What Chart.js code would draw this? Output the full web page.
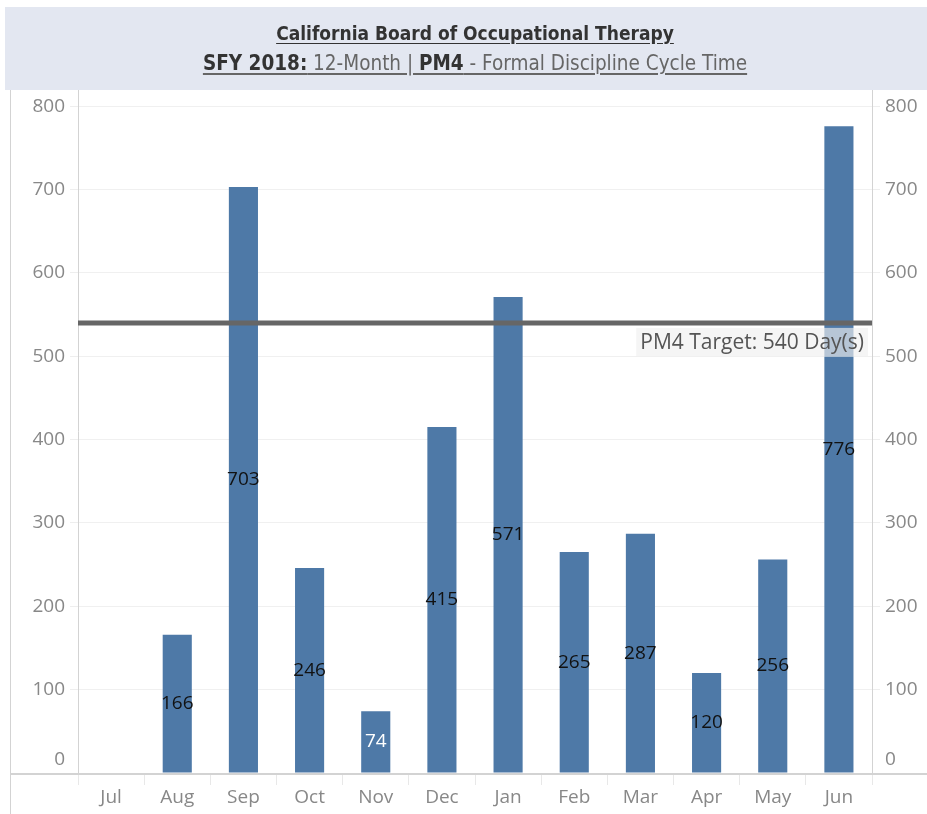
<!DOCTYPE html>
<html>
<head>
<meta charset="utf-8">
<script src="https://cdn.jsdelivr.net/npm/chart.js@4"></script>
<style>
  body { margin: 0; background: #fff; }
  #wrap { position: relative; width: 927px; height: 814px; }
  #head { position: absolute; left: 5px; top: 7px; width: 922px; height: 83px; background: #e3e7f1; }
  #titles { position: absolute; left: 78px; width: 794px; top: 18px; text-align: center;
    font-family: "Liberation Sans Narrow", "DejaVu Sans Condensed", sans-serif; color: #333; }
  #titles div { text-decoration: underline; text-underline-offset: 3px; }
  .t1 { font-size: 19px; font-weight: bold; line-height: 30px; }
  .t2 { font-size: 20.5px; line-height: 30px; color: #666; }
  .t2 b { color: #333; }
  canvas { position: absolute; left: 0; top: 0; }
</style>
</head>
<body>
<div id="wrap">
  <div id="head"></div>
  <canvas id="c" width="927" height="814"></canvas>
  <div id="titles">
    <div class="t1">California Board of Occupational Therapy</div>
    <div class="t2"><b>SFY 2018:</b> 12-Month | <b>PM4</b> - Formal Discipline Cycle Time</div>
  </div>
</div>
<script>
var months = ['Jul', 'Aug', 'Sep', 'Oct', 'Nov', 'Dec', 'Jan', 'Feb', 'Mar', 'Apr', 'May', 'Jun'];
var cycleDays = [null, 166, 703, 246, 74, 415, 571, 265, 287, 120, 256, 776];
var target = 540;
var targetLabel = 'PM4 Target: 540 Day(s)';
var yTicks = [0, 100, 200, 300, 400, 500, 600, 700, 800];

var tickFont = { family: "'Open Sans', sans-serif", size: 19 };

function keepTicks(scale) {
    scale.ticks = yTicks.map(function (v) { return { value: v }; });
}

// the 0 label is drawn by the plugin, nudged above the baseline
function noZero(v) {
    return v === 0 ? '' : v;
}

// frame lines, target line and bar labels
var extras = {
    id: 'extras',
    beforeDatasetsDraw: function (chart) {
        var ctx = chart.ctx, a = chart.chartArea;
        ctx.save();
        ctx.strokeStyle = '#d3d3d3';
        ctx.lineWidth = 1;
        ctx.beginPath();
        ctx.moveTo(10.5, 90); ctx.lineTo(10.5, 814);
        ctx.moveTo(a.left + 0.5, 90); ctx.lineTo(a.left + 0.5, a.bottom);
        ctx.moveTo(a.right + 0.5, 90); ctx.lineTo(a.right + 0.5, a.bottom);
        ctx.stroke();
        ctx.restore();
    },
    afterDatasetsDraw: function (chart) {
        var ctx = chart.ctx, a = chart.chartArea;
        var y = chart.scales.y;
        ctx.save();
        ctx.strokeStyle = '#d3d3d3';
        ctx.lineWidth = 2;
        ctx.beginPath();
        ctx.moveTo(10, a.bottom + 1); ctx.lineTo(927, a.bottom + 1);
        ctx.stroke();

        // zero labels on both value axes
        var zy = y.getPixelForValue(0) - 13;
        ctx.font = "19px 'Open Sans', sans-serif";
        ctx.fillStyle = '#888';
        ctx.textBaseline = 'middle';
        ctx.textAlign = 'right';
        ctx.fillText('0', a.left - 13, zy);
        ctx.textAlign = 'left';
        ctx.fillText('0', a.right + 13, zy);

        // bar labels
        var meta = chart.getDatasetMeta(0);
        ctx.textAlign = 'center';
        meta.data.forEach(function (bar, i) {
            var v = cycleDays[i];
            if (v === null) return;
            ctx.fillStyle = v < 100 ? '#ffffff' : '#111111';
            ctx.fillText(String(v), bar.x, (bar.y + bar.base) / 2);
        });

        // target line
        var ty = y.getPixelForValue(target);
        ctx.strokeStyle = '#666666';
        ctx.lineWidth = 5;
        ctx.beginPath();
        ctx.moveTo(a.left, ty); ctx.lineTo(a.right, ty);
        ctx.stroke();

        ctx.font = "21px 'Open Sans', sans-serif";
        var w = ctx.measureText(targetLabel).width + 8;
        var bx = a.right - 4 - w;
        ctx.fillStyle = 'rgba(240,240,240,0.65)';
        ctx.fillRect(bx, ty + 5, w, 29);
        ctx.fillStyle = '#555555';
        ctx.textAlign = 'left';
        ctx.fillText(targetLabel, bx + 4, ty + 20);
        ctx.restore();
    }
};

new Chart(document.getElementById('c'), {
    type: 'bar',
    data: {
        labels: months,
        datasets: [{
            data: cycleDays,
            backgroundColor: '#4e79a7',
            barPercentage: 0.44,
            categoryPercentage: 1.0
        }]
    },
    options: {
        responsive: false,
        animation: false,
        layout: { padding: { left: 10, top: 92, right: 0, bottom: 0 } },
        plugins: { legend: { display: false }, tooltip: { enabled: false } },
        scales: {
            x: {
                grid: { offset: true, drawOnChartArea: false, tickLength: 12, color: '#e8e8e8' },
                border: { display: false },
                ticks: { color: '#888', font: tickFont, padding: 1 },
                afterFit: function (s) { s.height = 41; }
            },
            y: {
                min: 0, max: 817,
                afterBuildTicks: keepTicks,
                grid: { color: '#f0f0f0', tickLength: 8, tickColor: '#eeeeee' },
                border: { display: false },
                ticks: { color: '#888', font: tickFont, padding: 5, callback: noZero },
                afterFit: function (s) { s.width = 68; }
            },
            y2: {
                position: 'right',
                min: 0, max: 817,
                afterBuildTicks: keepTicks,
                grid: { drawOnChartArea: false, tickLength: 8, color: '#eeeeee' },
                border: { display: false },
                ticks: { color: '#888', font: tickFont, padding: 5, callback: noZero },
                afterFit: function (s) { s.width = 55; }
            }
        }
    },
    plugins: [extras]
});
</script>
</body>
</html>
